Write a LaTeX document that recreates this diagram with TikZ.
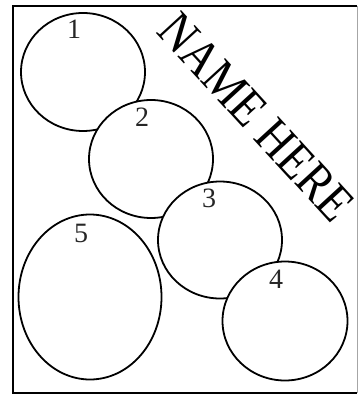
\documentclass[tikz,border=0pt]{standalone}
\usepackage{fontspec}
\usepackage{graphicx}
\setmainfont{Liberation Serif}
\usetikzlibrary{shapes.geometric}
\begin{document}
\begin{tikzpicture}[x=1pt,y=-1pt,
  blob/.style={ellipse,draw,fill=white,line width=1.8pt,inner sep=0pt},
  num/.style={inner sep=0pt,font=\fontsize{28}{28}\selectfont,text=black!85}]
\useasboundingbox (0,0) rectangle (360,395);
\fill[white] (0,0) rectangle (360,395);
\draw[line width=2pt] (357,6.5) -- (13,6.5) -- (13,393) -- (357,393);
\draw[line width=0.8pt,black!35] (357,6.5) -- (357,393);
\node[blob,minimum width=124pt,minimum height=118pt] (c1) at (83,72) {};
\node[blob,minimum width=124pt,minimum height=118pt] (c2) at (151,159) {};
\node[blob,minimum width=124pt,minimum height=117pt] (c3) at (220,240) {};
\node[blob,minimum width=125pt,minimum height=119pt] (c4) at (285,321) {};
\node[blob,minimum width=143pt,minimum height=165pt] (c5) at (90,297) {};
\node[num] (n1) at (74,29) {1};
\node[num] (n2) at (142,117) {2};
\node[num] (n3) at (209,198) {3};
\node[num] (n4) at (276,279) {4};
\node[num] (n5) at (81,233) {5};
\node[inner sep=0pt,anchor=base west,rotate=-47.5,font=\fontsize{52}{52}\selectfont] (t) at (155,32) {\scalebox{0.868}[1]{NAME HERE}};
\end{tikzpicture}
\end{document}
